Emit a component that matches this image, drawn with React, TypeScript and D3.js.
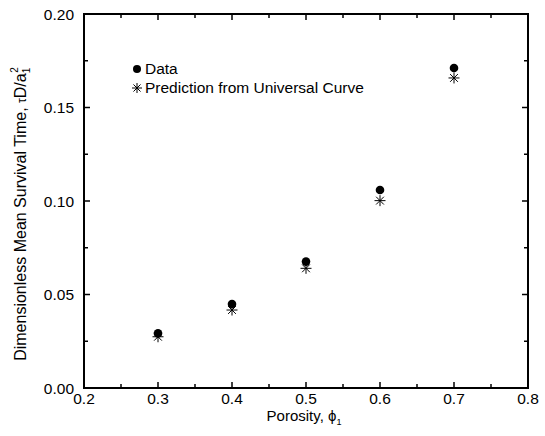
import React from "react";
import * as d3 from "d3";

const porosity = [0.3, 0.4, 0.5, 0.6, 0.7];
const dataValues = [0.0292, 0.0449, 0.0676, 0.1059, 0.1711];
const predictionValues = [0.0274, 0.0417, 0.064, 0.1002, 0.1658];
const xTickLabels = ["0.2", "0.3", "0.4", "0.5", "0.6", "0.7", "0.8"];
const yTickLabels = ["0.00", "0.05", "0.10", "0.15", "0.20"];

const W = 545, H = 436;
const L = 84, R = 528, T = 14, B = 388;
const FONT = "'Liberation Sans', Arial, Helvetica, sans-serif";

function Star({ x, y, r }: { x: number; y: number; r: number }) {
  const arms = [0, 45, 90, 135];
  return (
    <g>
      {arms.map((a) => {
        const rad = (a * Math.PI) / 180;
        const dx = Math.cos(rad) * r, dy = Math.sin(rad) * r;
        return <line key={a} x1={x - dx} y1={y - dy} x2={x + dx} y2={y + dy} stroke="#000" strokeWidth={1} />;
      })}
    </g>
  );
}

export default function App() {
  const x = d3.scaleLinear().domain([0.2, 0.8]).range([L, R]);
  const y = d3.scaleLinear().domain([0, 0.2]).range([B, T]);
  const xTicks = d3.range(0, 13).map((i) => 0.2 + i * 0.05);
  const yTicks = d3.range(0, 9).map((i) => i * 0.025);
  return (
    <svg width={W} height={H} style={{ position: "absolute", left: 0, top: 0, background: "#fff" }} fontFamily={FONT}>
      <rect x={0} y={0} width={W} height={H} fill="#fff" />
      <rect x={L} y={T} width={R - L} height={B - T} fill="none" stroke="#000" strokeWidth={2} />
      {xTicks.map((t, i) => {
        const len = i % 2 === 0 ? 6 : 4;
        return (
          <g key={"xt" + i}>
            <line x1={x(t)} x2={x(t)} y1={B} y2={B - len} stroke="#000" strokeWidth={1.5} />
            <line x1={x(t)} x2={x(t)} y1={T} y2={T + len} stroke="#000" strokeWidth={1.5} />
          </g>
        );
      })}
      {yTicks.map((t, i) => {
        const len = i % 2 === 0 ? 6 : 4;
        return (
          <g key={"yt" + i}>
            <line x1={L} x2={L + len} y1={y(t)} y2={y(t)} stroke="#000" strokeWidth={1.5} />
            <line x1={R} x2={R - len} y1={y(t)} y2={y(t)} stroke="#000" strokeWidth={1.5} />
          </g>
        );
      })}
      {xTickLabels.map((lab) => (
        <text key={"xl" + lab} x={x(+lab)} y={404} textAnchor="middle" fontSize={15.5} fill="#000">{lab}</text>
      ))}
      {yTickLabels.map((lab) => (
        <text key={"yl" + lab} x={74} y={y(+lab) + 5.5} textAnchor="end" fontSize={15.5} fill="#000">{lab}</text>
      ))}
      <text x={304} y={421} textAnchor="middle" fontSize={15} fill="#000">
        Porosity, ϕ<tspan fontSize={9} dy={4}>1</tspan>
      </text>
      <text transform={`translate(26,${214}) rotate(-90)`} textAnchor="middle" fontSize={16} fill="#000">
        Dimensionless Mean Survival Time, <tspan fontSize={12}>τ</tspan>D/a<tspan fontSize={10} dy={4}>1</tspan><tspan fontSize={10} dy={-12} dx={-5}>2</tspan>
      </text>
      {porosity.map((p, i) => (
        <circle key={"d" + i} cx={x(p)} cy={y(dataValues[i])} r={4.3} fill="#000" />
      ))}
      {porosity.map((p, i) => (
        <Star key={"s" + i} x={x(p)} y={y(predictionValues[i])} r={5.5} />
      ))}
      <circle cx={137} cy={69} r={4} fill="#000" />
      <text x={145} y={74} fontSize={15.5} fill="#000">Data</text>
      <Star x={137} y={88} r={5} />
      <text x={145} y={93} fontSize={15.5} fill="#000">Prediction from Universal Curve</text>
    </svg>
  );
}
